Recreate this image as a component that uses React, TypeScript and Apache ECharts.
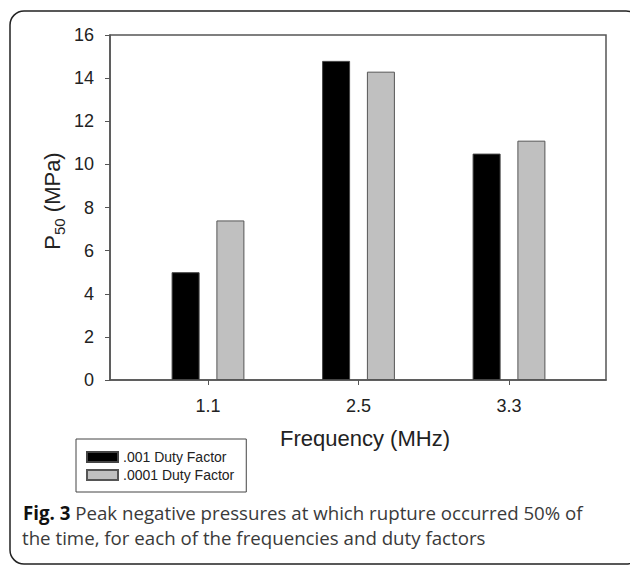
import React, { useEffect, useRef } from "react";
import * as echarts from "echarts";

const categories = ["1.1", "2.5", "3.3"];
const seriesNames = [".001 Duty Factor", ".0001 Duty Factor"];
const dutyFactor001 = [5.0, 14.8, 10.5];
const dutyFactor0001 = [7.4, 14.3, 11.1];
const yTicks = { min: 0, max: 16, interval: 2 };
const captionBold = "Fig. 3";
const captionLine1 = " Peak negative pressures at which rupture occurred 50% of";
const captionLine2 = "the time, for each of the frequencies and duty factors";
const xName = "Frequency (MHz)";

const FONT = "'Liberation Sans', Arial, sans-serif";
const CAP_FONT = "'Open Sans', 'Noto Sans', sans-serif";

export default function App() {
  const ref = useRef<HTMLDivElement>(null);
  useEffect(() => {
    if (!ref.current) return;
    const chart = echarts.init(ref.current, undefined, { renderer: "svg" });
    const axisColor = "#555";
    chart.setOption({
      animation: false,
      backgroundColor: "#fff",
      grid: [
        {
          left: 110, right: 24, top: 35, bottom: 185,
          show: true, borderColor: axisColor, borderWidth: 1.5,
          backgroundColor: "transparent",
        },
        { left: 132.75, right: 45.75, top: 35, bottom: 185 },
      ],
      xAxis: [
        {
          gridIndex: 0, type: "value", min: 0, max: 1,
          axisLine: { show: true, lineStyle: { color: axisColor, width: 1.5 } },
          axisTick: { show: false }, axisLabel: { show: false }, splitLine: { show: false },
        },
        {
          gridIndex: 1, type: "category", data: categories,
          axisLine: { show: false },
          axisTick: { show: true, alignWithLabel: true, length: 5, lineStyle: { color: axisColor, width: 1 } },
          axisLabel: { color: "#222", fontSize: 18, fontFamily: FONT, margin: 17 },
        },
      ],
      yAxis: [
        {
          gridIndex: 0, type: "value", min: yTicks.min, max: yTicks.max, interval: yTicks.interval,
          axisLine: { show: true, lineStyle: { color: axisColor, width: 1.5 } },
          axisTick: { show: true, length: 5, lineStyle: { color: axisColor, width: 1 } },
          axisLabel: { color: "#222", fontSize: 18, fontFamily: FONT, margin: 16 },
          splitLine: { show: false },
        },
        {
          gridIndex: 1, type: "value", min: yTicks.min, max: yTicks.max, interval: yTicks.interval,
          show: false, splitLine: { show: false },
        },
      ],
      legend: {
        orient: "vertical", left: 76, top: 439,
        data: seriesNames,
        borderColor: "#444", borderWidth: 1,
        padding: [11, 12, 10, 10],
        itemWidth: 31, itemHeight: 10, itemGap: 4,
        icon: "rect",
        textStyle: { color: "#222", fontSize: 14, fontFamily: FONT, lineHeight: 14 },
      },
      series: [
        {
          name: seriesNames[0], type: "bar", xAxisIndex: 1, yAxisIndex: 1,
          data: dutyFactor001, barWidth: 28, barGap: "60%",
          itemStyle: { color: "#000", borderColor: "#444", borderWidth: 1 },
        },
        {
          name: seriesNames[1], type: "bar", xAxisIndex: 1, yAxisIndex: 1,
          data: dutyFactor0001, barWidth: 28, barGap: "60%",
          itemStyle: { color: "#c0c0c0", borderColor: "#555", borderWidth: 1 },
        },
      ],
      graphic: [
        {
          type: "rect", shape: { x: 10, y: 11, width: 630, height: 553, r: 14 },
          style: { fill: "none", stroke: "#222", lineWidth: 1.5 }, silent: true,
        },
        {
          type: "text", x: 365, y: 438,
          style: { text: xName, fill: "#222", font: `22px ${FONT}`, textAlign: "center", textVerticalAlign: "middle" },
        },
        {
          type: "text", x: 52, y: 201, rotation: Math.PI / 2,
          style: {
            text: "{a|P}{b|50}{a| (MPa)}",
            textAlign: "center", textVerticalAlign: "middle",
            rich: {
              a: { fontSize: 22, fontFamily: FONT, fill: "#222", color: "#222", lineHeight: 30, verticalAlign: "middle" },
              b: { fontSize: 15, fontFamily: FONT, fill: "#222", color: "#222", lineHeight: 30, verticalAlign: "bottom" },
            },
          },
        },
        {
          type: "text", x: 23, y: 512,
          style: {
            text: `{b|${captionBold}}{a|${captionLine1}}`,
            textVerticalAlign: "middle",
            rich: {
              b: { fontSize: 18.7, fontFamily: CAP_FONT, fontWeight: "bold", fill: "#111", color: "#111" },
              a: { fontSize: 18.7, fontFamily: CAP_FONT, fill: "#3a3a3a", color: "#3a3a3a" },
            },
          },
        },
        {
          type: "text", x: 22, y: 537,
          style: { text: captionLine2, fill: "#3a3a3a", font: `18.7px ${CAP_FONT}`, textVerticalAlign: "middle" },
        },
      ],
    });
    return () => chart.dispose();
  }, []);
  return <div ref={ref} style={{ position: "absolute", left: 0, top: 0, width: 630, height: 565 }} />;
}
